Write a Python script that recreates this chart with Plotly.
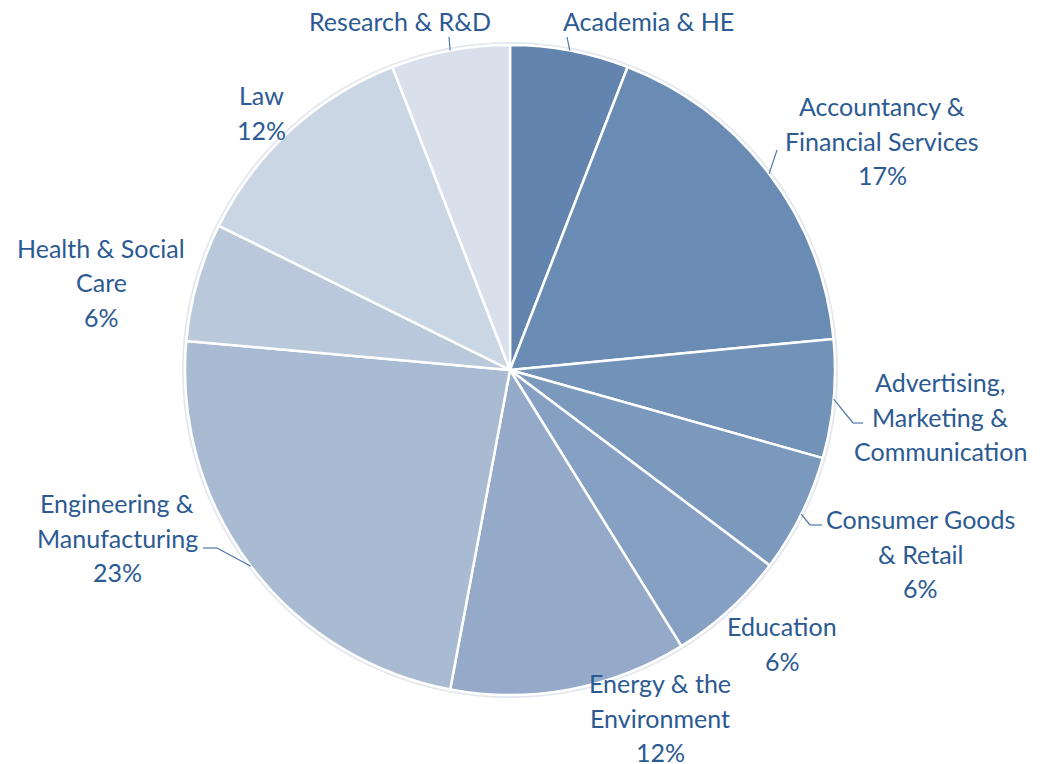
import math
import plotly.graph_objects as go

W, H = 1048, 764
OFF = 8  # page body margin in the browser

sectors = ["Academia & HE", "Accountancy & Financial Services",
           "Advertising, Marketing & Communication", "Consumer Goods & Retail",
           "Education", "Energy & the Environment", "Engineering & Manufacturing",
           "Health & Social Care", "Law", "Research & R&D"]
# slice shares as drawn (angles), and the percentage labels as printed
share = [5.9, 17.6, 5.9, 5.9, 5.9, 11.8, 23.5, 5.9, 11.8, 5.9]
pct_label = [None, "17%", None, "6%", "6%", "12%", "23%", "6%", "12%", None]
colors = ["#6284AE", "#6A8CB4", "#7292B8", "#7B99BC", "#85A0C2",
          "#94AAC8", "#A9BBD3", "#B9C8DB", "#CAD6E4", "#D9E0EC"]

# label text lines, centre x and y of first line (px)
label_lines = [["Academia & HE"],
               ["Accountancy &", "Financial Services"],
               ["Advertising,", "Marketing &", "Communication"],
               ["Consumer Goods", "& Retail"],
               ["Education"],
               ["Energy & the", "Environment"],
               ["Engineering &", "Manufacturing"],
               ["Health & Social", "Care"],
               ["Law"],
               ["Research & R&D"]]
label_x = [648, 882, 940, 920, 782, 660, 117, 101, 261, 400]
label_y = [21, 106, 382, 519, 626, 683, 503, 248, 95, 21]
# leader line end points (px), None = no leader
leader = [[(567, 37)], [(777, 150)], [(853, 423), (863, 423)],
          [(810, 525), (822, 525)], None, None,
          [(217, 548), (203, 548)], None, None, [(449, 37)]]

cx, cy, r = 510, 370, 325
line_gap = 34.5
txt_color = "#2C5A92"


def px(x, y):
    return (x - OFF) / W, 1 - (y - OFF) / H


dx0, dy0 = px(cx - r, cy + r)
dx1, dy1 = px(cx + r, cy - r)

fig = go.Figure(go.Pie(
    labels=sectors, values=share, sort=False, direction="clockwise",
    rotation=0, textinfo="none", hoverinfo="label",
    marker=dict(colors=colors, line=dict(color="white", width=2.5)),
    domain=dict(x=[dx0, dx1], y=[dy0, dy1]),
    showlegend=False))

annotations = []
shapes = []
total = sum(share)
cum = 0
for i, v in enumerate(share):
    lines = list(label_lines[i])
    if pct_label[i]:
        lines.append(pct_label[i])
    for j, t in enumerate(lines):
        ax, ay = px(label_x[i], label_y[i] + j * line_gap)
        annotations.append(dict(x=ax, y=ay, xref="paper", yref="paper", text=t,
                                showarrow=False, xanchor="center", yanchor="middle",
                                borderpad=0,
                                font=dict(family="Lato", size=25, color=txt_color)))
    mid = (cum + v / 2) / total * 2 * math.pi
    cum += v
    if leader[i]:
        pts = [(cx + r * math.sin(mid), cy - r * math.cos(mid))] + leader[i]
        for (x0, y0), (x1, y1) in zip(pts[:-1], pts[1:]):
            a0, b0 = px(x0, y0)
            a1, b1 = px(x1, y1)
            shapes.append(dict(type="line", xref="paper", yref="paper",
                               x0=a0, y0=b0, x1=a1, y1=b1,
                               line=dict(color="#4F78A8", width=1.2)))

# soft rim round the pie
x0, y0 = px(cx - r - 2, cy + r + 2)
x1, y1 = px(cx + r + 2, cy - r - 2)
shapes.insert(0, dict(type="circle", xref="paper", yref="paper",
                      x0=x0, y0=y0, x1=x1, y1=y1,
                      line=dict(color="#E3E7EE", width=2), layer="below"))

fig.update_layout(width=W, height=H, margin=dict(l=0, r=0, t=0, b=0),
                  paper_bgcolor="white", plot_bgcolor="white",
                  annotations=annotations, shapes=shapes)

fig.write_html("out.html")
